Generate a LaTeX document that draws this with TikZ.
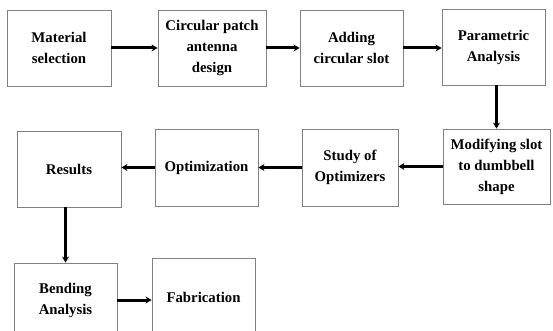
\documentclass[tikz,border=0pt]{standalone}
\usepackage{fontspec}
\setmainfont{Liberation Serif}
\usetikzlibrary{arrows.meta}
\begin{document}
\begin{tikzpicture}[x=1pt,y=-1pt,
  stage/.style={draw=black!50, line width=0.9pt, fill=white, align=center,
    inner sep=2pt, font=\fontsize{14.8}{21}\selectfont\bfseries},
  flow/.style={line width=3pt, -{Stealth[length=6pt,width=7pt]}}]
\useasboundingbox (0,0) rectangle (553,331);
\clip (0,0) rectangle (553,331);
\fill[white] (0,0) rectangle (553,331);
% top row
\node[stage, minimum width=104, minimum height=76] (b1) at (59,48) {Material\\selection};
\node[stage, minimum width=108, minimum height=76] (b2) at (212,48) {Circular patch\\antenna\\design};
\node[stage, minimum width=103, minimum height=76] (b3) at (351.5,48) {Adding\\circular slot};
\node[stage, minimum width=103, minimum height=76] (b4) at (493.5,47) {Parametric\\Analysis};
% middle row
\node[stage, minimum width=107, minimum height=75] (b5) at (496.5,166.5) {Modifying slot\\to dumbbell\\shape};
\node[stage, minimum width=96, minimum height=77] (b6) at (350,167.5) {Study of\\Optimizers};
\node[stage, minimum width=103, minimum height=77] (b7) at (206.5,167.5) {Optimization};
\node[stage, minimum width=104, minimum height=76] (b8) at (69,169) {Results};
% bottom row
\node[stage, minimum width=103, minimum height=74] (b9) at (65.5,300) {Bending\\Analysis};
\node[stage, minimum width=103, minimum height=78] (b10) at (203.5,297) {Fabrication};
% connectors
\draw[flow] (b1.east) -- (b2.west);
\draw[flow] (b2.east) -- (b3.west);
\draw[flow] (b3.east) -- (b4.west |- b3.east);
\draw[flow] (b5.north |- b4.south) -- (b5.north);
\draw[flow] (b5.west) -- (b6.east |- b5.west);
\draw[flow] (b6.west) -- (b7.east);
\draw[flow] (b7.west) -- (b8.east |- b7.west);
\draw[flow] (b9.north |- b8.south) -- (b9.north);
\draw[flow] (b9.east) -- (b10.west |- b9.east);
\end{tikzpicture}
\end{document}
